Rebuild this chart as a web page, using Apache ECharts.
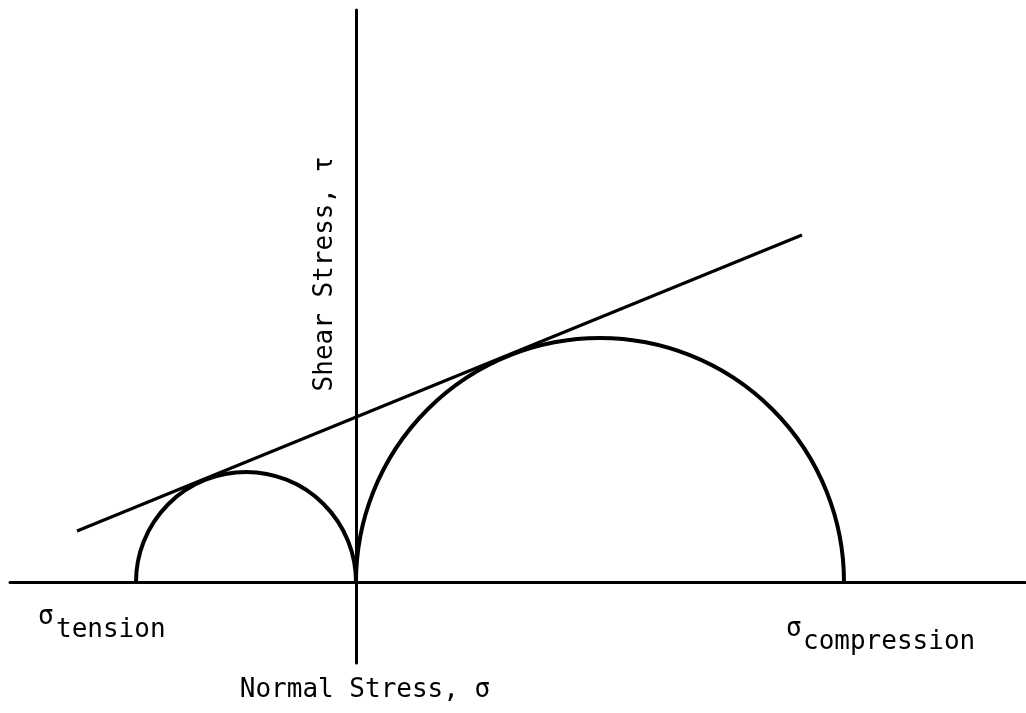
<!DOCTYPE html>
<html>
<head>
<meta charset="utf-8">
<script src="https://cdn.jsdelivr.net/npm/echarts@6/dist/echarts.min.js"></script>
<style>
html,body{margin:0;padding:0;background:#fff;}
#mohr{width:1026px;height:713px;}
</style>
</head>
<body>
<div id="mohr"></div>
<script>
// Mohr circles, values in plot units (origin at the axes crossing)
var circleCenters = [-110, 244];
var circleRadii = [110, 244];
// failure envelope end points
var envelopeX = [-279, 446];
var envelopeY = [51, 347];

var font = '"DejaVu Sans Mono", "Liberation Mono", monospace';

var chart = echarts.init(document.getElementById('mohr'));

var circleData = [];
for (var i = 0; i < circleCenters.length; i++) {
    circleData.push([circleCenters[i], circleRadii[i]]);
}
var lineData = [];
for (var j = 0; j < envelopeX.length; j++) {
    lineData.push([envelopeX[j], envelopeY[j]]);
}

var option = {
    animation: false,
    backgroundColor: '#fff',
    grid: { left: 10, right: 1, top: 10, bottom: 50 },
    xAxis: {
        type: 'value', min: -346, max: 669,
        axisLine: { show: true, onZero: true, lineStyle: { color: '#000', width: 3 } },
        axisTick: { show: false }, axisLabel: { show: false }, splitLine: { show: false }
    },
    yAxis: {
        type: 'value', min: -81, max: 572,
        axisLine: { show: true, onZero: true, lineStyle: { color: '#000', width: 3 } },
        axisTick: { show: false }, axisLabel: { show: false }, splitLine: { show: false }
    },
    series: [
        {
            type: 'custom',
            data: circleData,
            renderItem: function (params, api) {
                var c = api.coord([api.value(0), 0]);
                var r = api.size([api.value(1), 0])[0];
                return {
                    type: 'arc',
                    shape: { cx: c[0], cy: c[1], r: r, startAngle: Math.PI, endAngle: 2 * Math.PI, clockwise: true },
                    style: { stroke: '#000', lineWidth: 4, fill: null }
                };
            }
        },
        {
            type: 'line',
            data: lineData,
            symbol: 'none',
            lineStyle: { color: '#000', width: 3 }
        }
    ],
    graphic: [
        { type: 'text', x: 325, y: 274, rotation: Math.PI / 2,
          style: { text: 'Shear Stress, \u03c4', font: '26px ' + font, fill: '#000', align: 'center', verticalAlign: 'middle' } },
        { type: 'text', x: 365, y: 690,
          style: { text: 'Normal Stress, \u03c3', font: '26px ' + font, fill: '#000', align: 'center', verticalAlign: 'middle' } },
        { type: 'text', x: 38, y: 617,
          style: { text: '\u03c3', font: '26px ' + font, fill: '#000', align: 'left', verticalAlign: 'middle' } },
        { type: 'text', x: 56, y: 630,
          style: { text: 'tension', font: '26px ' + font, fill: '#000', align: 'left', verticalAlign: 'middle' } },
        { type: 'text', x: 786, y: 629,
          style: { text: '\u03c3', font: '26px ' + font, fill: '#000', align: 'left', verticalAlign: 'middle' } },
        { type: 'text', x: 803, y: 642,
          style: { text: 'compression', font: '26px ' + font, fill: '#000', align: 'left', verticalAlign: 'middle' } }
    ]
};
chart.setOption(option);
</script>
</body>
</html>
